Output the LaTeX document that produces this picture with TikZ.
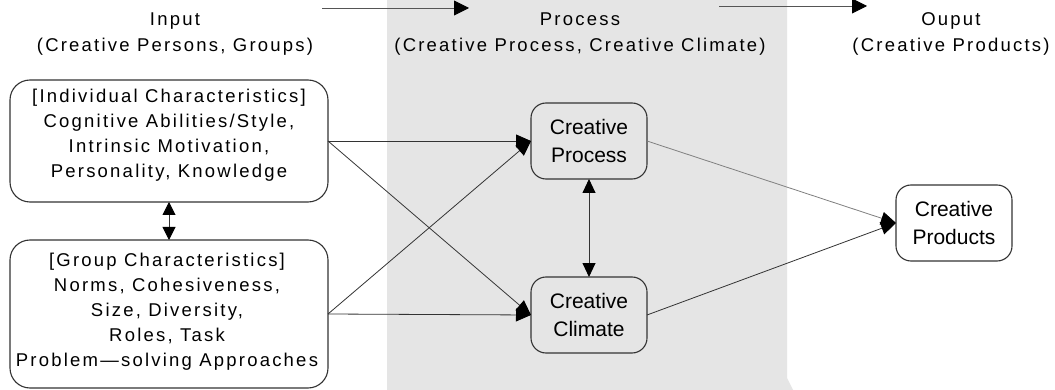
\documentclass[tikz,border=0pt]{standalone}
\usepackage{fontspec}
\setmainfont{Liberation Sans}
\newfontfamily\widefont[LetterSpace=12]{Liberation Sans}
\usetikzlibrary{arrows.meta}
\definecolor{panel}{HTML}{E5E5E5}
\definecolor{edge}{HTML}{333333}
\definecolor{softedge}{HTML}{555555}
\begin{document}
\begin{tikzpicture}[x=1pt,y=-1pt,
  every node/.style={inner sep=0pt, outer sep=0pt},
  heading/.style={font=\widefont\fontsize{18.5}{26}\selectfont, align=center},
  bigbox/.style={draw=edge, line width=1.1pt, rounded corners=20pt,
    minimum width=318pt},
  boxtext/.style={align=center, font=\widefont\fontsize{18.5}{25}\selectfont},
  smallbox/.style={draw=edge, line width=1.1pt, rounded corners=15pt,
    minimum width=116pt, minimum height=76pt, align=center,
    font=\fontsize{21}{28}\selectfont},
  link/.style={draw=edge, line width=0.8pt, -{Triangle[length=15pt,width=13pt,color=black]}},
  both/.style={draw=edge, line width=0.9pt,
    {Triangle[length=14pt,width=13pt,color=black]}-{Triangle[length=14pt,width=13pt,color=black]}},
  flow/.style={draw=softedge, line width=0.9pt, -{Triangle[length=15pt,width=15pt,color=black]}}]

% canvas and shaded process column
\fill[white] (0,0) rectangle (1055,390);
\fill[panel] (387,0) -- (787,0) -- (787,378) -- (793,390) -- (387,390) -- cycle;
\useasboundingbox (0,0) rectangle (1055,390);

% column headings
\node[heading] (hin)   at (175,34) {Input\\(Creative Persons, Groups)};
\node[heading] (hproc) at (580,34) {Process\\(Creative Process, Creative Climate)};
\node[heading] (hout)  at (951,34) {Ouput\\(Creative Products)};

\coordinate (f1a) at (322,8);
\coordinate (f1b) at (469,8);
\coordinate (f2a) at (719,6);
\coordinate (f2b) at (867,6);
\draw[flow] (f1a) -- (f1b);
\draw[flow] (f2a) -- (f2b);

% input boxes: frame and its lines of text
\node[bigbox, minimum height=122pt] (ind) at (169,141) {};
\node[boxtext] (indtext) at (169,135)
  {[Individual Characteristics]\\Cognitive Abilities/Style,\\Intrinsic Motivation,\\Personality, Knowledge};
\node[bigbox, minimum height=148pt] (grp) at (169,314) {};
\node[boxtext] (grptext) at (167,312)
  {[Group Characteristics]\\Norms, Cohesiveness,\\Size, Diversity,\\Roles, Task\\Problem—solving Approaches};

% process and output boxes
\node[smallbox] (proc) at (589,141) {Creative\\Process};
\node[smallbox] (clim) at (589,315) {Creative\\Climate};
\node[smallbox] (prod) at (954,223) {Creative\\Products};

% connectors
\draw[draw=edge, line width=1pt,
  {Triangle[length=13pt,width=13pt,color=black]}-{Triangle[length=13pt,width=13pt,color=black]}]
  (ind.south) -- (grp.north);
\draw[link] (ind.east) -- (proc.west);
\draw[link] (ind.east) -- (clim.west);
\draw[link] (grp.east) -- (proc.west);
\draw[link] (grp.east) -- (clim.west);
\draw[both] (proc.south) -- (clim.north);
\draw[link, draw=gray] (proc.east) -- (prod.west);
\draw[link] (clim.east) -- (prod.west);
\end{tikzpicture}
\end{document}
